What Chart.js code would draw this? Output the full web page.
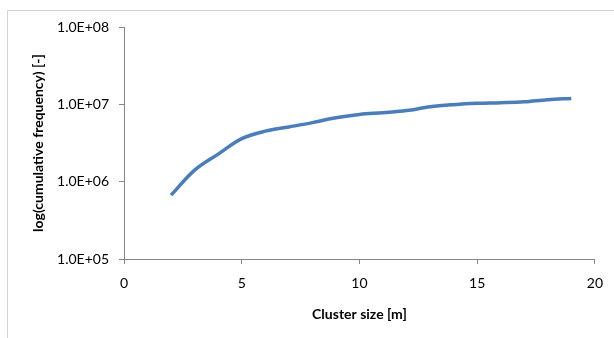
<!DOCTYPE html>
<html>
<head>
<meta charset="utf-8">
<script src="https://cdn.jsdelivr.net/npm/chart.js@4/dist/chart.umd.min.js"></script>
<style>
  html, body { margin: 0; padding: 0; background: #fff; }
  #wrap { position: relative; width: 614px; height: 338px; overflow: hidden; }
  #frame { position: absolute; left: 7px; top: 10px; width: 700px; height: 400px; border: 1px solid #d4d4d4; box-sizing: border-box; }
  canvas { position: absolute; left: 0; top: 0; }
</style>
</head>
<body>
<div id="wrap">
  <div id="frame"></div>
  <canvas id="c" width="614" height="338"></canvas>
</div>
<script>
const clusterSize = [2, 3, 4, 5, 6, 7, 8, 9, 10, 11, 12, 13, 14, 15, 16, 17, 18, 19];
const cumulativeFrequency = [6.7e5, 1.41e6, 2.27e6, 3.6e6, 4.5e6, 5.1e6, 5.8e6, 6.7e6, 7.4e6, 7.8e6, 8.3e6, 9.3e6, 9.9e6, 1.03e7, 1.05e7, 1.08e7, 1.15e7, 1.19e7];
const yTickValues = [1e5, 1e6, 1e7, 1e8];
const yTickLabels = ['1.0E+05', '1.0E+06', '1.0E+07', '1.0E+08'];
const xTitle = 'Cluster size [m]';
const yTitle = 'log(cumulative frequency) [-]';

const axisColor = '#868686';
const tickFont = { family: 'Lato', size: 14 };
const titleFont = { family: 'Lato', size: 14, weight: 'bold' };

new Chart(document.getElementById('c'), {
  type: 'line',
  data: {
    datasets: [{
      data: clusterSize.map((x, i) => ({ x: x, y: cumulativeFrequency[i] })),
      borderColor: '#4a7ebb',
      borderWidth: 3.5,
      pointRadius: 0,
      tension: 0.35,
      fill: false
    }]
  },
  options: {
    responsive: false,
    animation: false,
    devicePixelRatio: 1,
    layout: { padding: { left: 0, right: 18, top: 27, bottom: 0 } },
    plugins: { legend: { display: false }, tooltip: { enabled: false } },
    scales: {
      x: {
        type: 'linear',
        min: 0, max: 20,
        ticks: { stepSize: 5, color: '#000', font: tickFont, padding: 11 },
        grid: { drawOnChartArea: false, drawTicks: true, tickLength: 5, color: axisColor },
        border: { color: axisColor, width: 1 },
        title: { display: true, text: xTitle, color: '#000', font: titleFont, padding: { top: 0, bottom: 15 } },
        afterFit: s => { s.height = 79; }
      },
      y: {
        type: 'logarithmic',
        min: 1e5, max: 1e8,
        afterBuildTicks: s => { s.ticks = yTickValues.map(v => ({ value: v })); },
        ticks: {
          color: '#000', font: tickFont, padding: 10,
          callback: v => yTickLabels[yTickValues.indexOf(v)] || ''
        },
        grid: { drawOnChartArea: false, drawTicks: true, tickLength: 5, color: axisColor },
        border: { color: axisColor, width: 1 },
        title: { display: true, text: yTitle, color: '#000', font: titleFont, padding: { top: 30, bottom: 0 } },
        afterFit: s => { s.width = 124; }
      }
    }
  }
});
</script>
</body>
</html>
